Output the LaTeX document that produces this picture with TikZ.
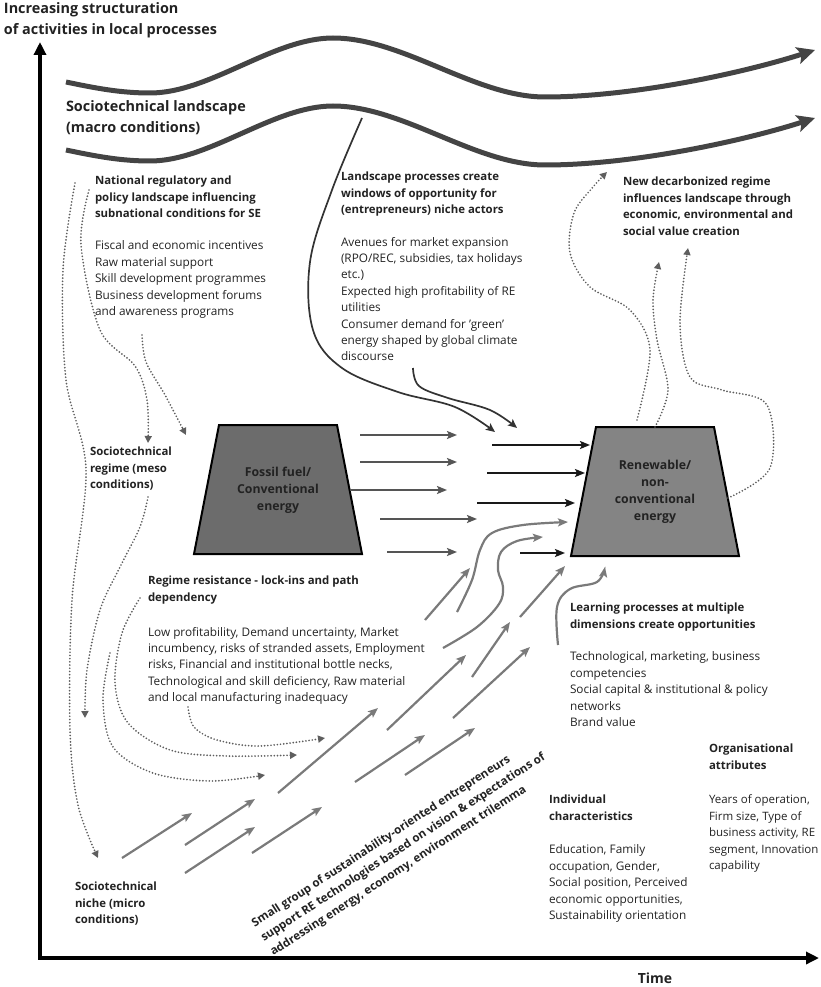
\documentclass[tikz,border=0pt]{standalone}
\usepackage{fontspec}
\setmainfont{Open Sans}
\usetikzlibrary{arrows.meta}
\definecolor{txtc}{HTML}{222222}
\definecolor{wavec}{HTML}{444444}
\definecolor{thinc}{HTML}{333333}
\definecolor{flowc}{HTML}{555555}
\definecolor{nichec}{HTML}{7A7A7A}
\definecolor{dotc}{HTML}{5E5E5E}
\definecolor{fossilc}{HTML}{6C6C6C}
\definecolor{renewc}{HTML}{848484}
\begin{document}
\begin{tikzpicture}[x=1pt,y=-1pt,
  every node/.style={inner sep=0pt,outer sep=0pt},
  body/.style={anchor=north west,align=left,text=txtc,font=\fontsize{11.8}{16.4}\selectfont},
  head/.style={anchor=north west,align=left,text=txtc,font=\bfseries\fontsize{11.4}{16.6}\selectfont},
  bighead/.style={anchor=north west,align=left,text=txtc,font=\bfseries\fontsize{14.4}{21}\selectfont},
  boxtext/.style={align=center,text=txtc,font=\bfseries\fontsize{12.3}{17}\selectfont},
  axisline/.style={line width=4pt,black,-{Triangle[length=13pt,width=12pt]}},
  wave/.style={draw=wavec,line width=5pt,-{Stealth[length=18pt,width=17pt,inset=4pt]}},
  thinflow/.style={draw=thinc,line width=1.7pt,-{Stealth[length=9pt,width=8pt,inset=2pt]}},
  grayflow/.style={draw=flowc,line width=2.2pt,-{Stealth[length=10pt,width=8pt,inset=2pt]}},
  blackflow/.style={draw=black!90,line width=2.2pt,-{Stealth[length=10pt,width=8pt,inset=2pt]}},
  nicheflow/.style={draw=nichec,line width=2.2pt,-{Stealth[length=10pt,width=8pt,inset=2pt]}},
  dotflow/.style={draw=dotc,line width=1.9pt,line cap=round,dash pattern=on 0pt off 3.2pt,-{Triangle[length=7pt,width=7pt]}},
  trap/.style={draw=black,line width=2pt,line join=miter}
]
\path[use as bounding box] (0,0) rectangle (820,987);

% axes
\coordinate (origin) at (40,958);
\coordinate (ytop) at (40,42);
\coordinate (xend) at (819,958);
\draw[axisline] (origin) -- (ytop);
\draw[axisline] (38,958) -- (xend);
\node[bighead] (ylabel) at (4,3) {Increasing structuration\\of activities in local processes};
\node[text=txtc,font=\bfseries\fontsize{14}{16}\selectfont] (xlabel) at (655,978) {Time};

% landscape waves
\draw[wave] (66,82) .. controls (95,88) and (120,93) .. (150,93)
  .. controls (210,93) and (273,38) .. (333,38)
  .. controls (403,38) and (475,97) .. (545,97)
  .. controls (630,97) and (740,74) .. (815,50);
\draw[wave] (66,150) .. controls (95,156) and (120,161) .. (150,161)
  .. controls (210,161) and (273,106) .. (333,106)
  .. controls (403,106) and (475,165) .. (545,165)
  .. controls (630,165) and (740,142) .. (815,118);
\node[bighead] (landscape) at (66,101) {Sociotechnical landscape\\(macro conditions)};

% windows of opportunity
\draw[thinflow] plot[smooth,tension=0.6] coordinates {(362,118) (332,190) (310,262) (313,330) (342,368) (398,392) (455,407) (495,432)};
\draw[thinflow] plot[smooth,tension=0.6] coordinates {(413,368) (419,386) (448,398) (490,410) (517,428)};

% regime trapezoids
\draw[trap,fill=fossilc] (219,425) -- (337,425) -- (362,554) -- (194,554) -- cycle;
\node[boxtext] (fossil) at (278,490) {Fossil fuel/\\Conventional\\energy};
\draw[trap,fill=renewc] (596,427) -- (714,427) -- (739,556) -- (571,556) -- cycle;
\node[boxtext] (renew) at (655,492) {Renewable/\\non-\\conventional\\energy};

% flows from the old regime
\draw[grayflow] (360,435) -- (457,435);
\draw[grayflow] (360,462) -- (457,462);
\draw[grayflow] (350,490) -- (447,490);
\draw[grayflow] (380,519) -- (477,519);
\draw[grayflow] (387,552) -- (457,552);
% flows into the new regime
\draw[blackflow] (492,445) -- (590,445);
\draw[blackflow] (487,473) -- (585,473);
\draw[blackflow] (477,503) -- (575,503);
\draw[blackflow] (520,553) -- (565,553);

% niche momentum
\draw[nicheflow] (122,858) -- (192,813);
\draw[nicheflow] (185,845) -- (255,799);
\draw[nicheflow] (185,873) -- (255,827);
\draw[nicheflow] (252,853) -- (322,807);
\draw[nicheflow] (278,793) -- (378,708);
\draw[nicheflow] (355,782) -- (425,735);
\draw[nicheflow] (405,775) -- (475,728);
\draw[nicheflow] (387,730) -- (466,655);
\draw[nicheflow] (453,718) -- (530,647);
\draw[nicheflow] (472,677) -- (510,622);
\draw[nicheflow] (520,617) -- (565,566);
\draw[nicheflow] (425,620) -- (470,568);
\draw[nicheflow] plot[smooth,tension=0.6] coordinates {(457,612) (472,580) (480,550) (492,533) (523,525) (568,522)};
\draw[nicheflow] plot[smooth,tension=0.6] coordinates {(443,648) (477,627) (499,604) (503,587) (498,570) (501,552) (517,541) (543,537)};
\draw[nicheflow] plot[smooth,tension=0.6] coordinates {(558,645) (557,607) (570,589) (597,582) (605,567)};

% dotted influences on the left
\draw[dotflow] plot[smooth,tension=0.55] coordinates {(75,183) (63,270) (66,380) (86,470) (72,600) (70,730) (78,805) (98,858)};
\draw[dotflow] plot[smooth,tension=0.55] coordinates {(89,190) (81,245) (100,330) (135,366) (147,400) (148,443)};
\draw[dotflow] plot[smooth,tension=0.55] coordinates {(142,335) (146,362) (165,395) (186,435)};
\draw[dotflow] plot[smooth,tension=0.55] coordinates {(148,497) (140,527) (120,567) (100,610) (87,670) (85,718)};
\draw[dotflow] plot[smooth,tension=0.55] coordinates {(140,598) (122,633) (115,683) (128,723) (170,750) (227,756) (297,755)};
\draw[dotflow] plot[smooth,tension=0.55] coordinates {(110,653) (103,700) (113,747) (153,773) (210,781) (265,775)};
\draw[dotflow] plot[smooth,tension=0.55] coordinates {(188,707) (194,727) (217,740) (260,746) (325,738)};

% dotted feedback to the landscape
\draw[dotflow] plot[smooth,tension=0.55] coordinates {(637,420) (650,350) (630,310) (590,287) (570,253) (574,213) (593,187) (607,172)};
\draw[dotflow] plot[smooth,tension=0.55] coordinates {(655,427) (668,390) (657,340) (653,300) (659,262)};
\draw[dotflow] plot[smooth,tension=0.55] coordinates {(728,498) (770,468) (767,405) (722,390) (690,377) (680,323) (688,248)};

% texts
\node[head] (national) at (95,176) {National regulatory and\\policy landscape influencing\\subnational conditions for SE};
\node[body] (nationalbody) at (95,241) {Fiscal and economic incentives\\Raw material support\\Skill development programmes\\Business development forums\\and awareness programs};
\node[head] (windows) at (341,172) {Landscape processes create\\windows of opportunity for\\(entrepreneurs) niche actors};
\node[body] (windowsbody) at (341,237) {Avenues for market expansion\\(RPO/REC, subsidies, tax holidays\\etc.)\\Expected high profitability of RE\\utilities\\Consumer demand for 'green'\\energy shaped by global climate\\discourse};
\node[head] (decarb) at (623,177) {New decarbonized regime\\influences landscape through\\economic, environmental and\\social value creation};
\node[head] (regime) at (90,447) {Sociotechnical\\regime (meso\\conditions)};
\node[head] (resistance) at (148,576) {Regime resistance - lock-ins and path\\dependency};
\node[body] (resistancebody) at (148,627) {Low profitability, Demand uncertainty, Market\\incumbency, risks of stranded assets, Employment\\risks, Financial and institutional bottle necks,\\Technological and skill deficiency, Raw material\\and local manufacturing inadequacy};
\node[head] (learning) at (570,603) {Learning processes at multiple\\dimensions create opportunities};
\node[body] (learningbody) at (570,652) {Technological, marketing, business\\competencies\\Social capital \& institutional \& policy\\networks\\Brand value};
\node[head] (org) at (709,744) {Organisational\\attributes};
\node[body,font=\fontsize{11.5}{16.4}\selectfont] (orgbody) at (709,795) {Years of operation,\\Firm size, Type of\\business activity, RE\\segment, Innovation\\capability};
\node[head] (indiv) at (549,795) {Individual\\characteristics};
\node[body] (indivbody) at (549,845) {Education, Family\\occupation, Gender,\\Social position, Perceived\\economic opportunities,\\Sustainability orientation};
\node[head] (niche) at (75,882) {Sociotechnical\\niche (micro\\conditions)};
\node[head,rotate=33,font=\bfseries\fontsize{11.6}{17}\selectfont] (entre) at (250,920) {Small group of sustainability-oriented entrepreneurs\\support RE technologies based on vision \& expectations of\\addressing energy, economy, environment trilemma};
\end{tikzpicture}
\end{document}
